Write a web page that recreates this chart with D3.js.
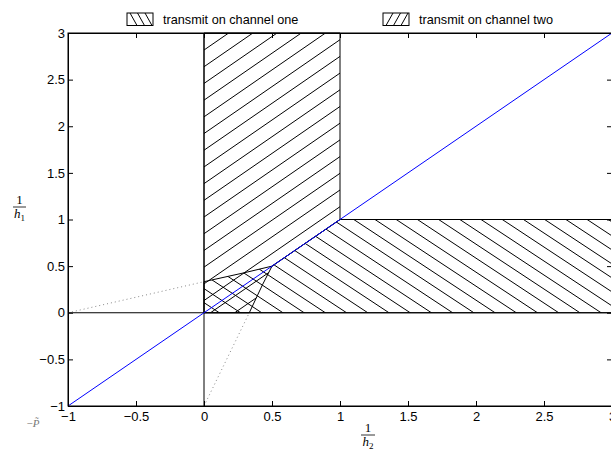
<!DOCTYPE html>
<html>
<head>
<meta charset="utf-8">
<script src="https://cdn.jsdelivr.net/npm/d3@7"></script>
<style>
  body { margin: 0; background: #fff; }
  svg { display: block; }
  text { font-family: "Liberation Sans", Arial, sans-serif; }
</style>
</head>
<body>
<svg id="chart" width="611" height="453"></svg>
<script>
// ticks on both axes
var xTicks = [-1, -0.5, 0, 0.5, 1, 1.5, 2, 2.5, 3];
var yTicks = [-1, -0.5, 0, 0.5, 1, 1.5, 2, 2.5, 3];

// regions
var channelOne = [[0, 0], [0, 0.333], [0.3, 0.43], [0.5, 0.5], [1, 1], [3, 1], [3, 0]];
var channelTwo = [[0, 0], [0.333, 0], [0.43, 0.3], [0.5, 0.5], [1, 1], [1, 3], [0, 3]];
var diagonal   = [[-1, -1], [3, 3]];
var dottedOne  = [[-1, 0], [0, 0.333]];
var dottedTwo  = [[0, -1], [0.333, 0]];
var xAxisLine  = [[-1, 0], [3, 0]];
var yAxisLine  = [[0, -1], [0, 3]];

var legendLabels = ["transmit on channel one", "transmit on channel two"];

var svg = d3.select("#chart");
var W = +svg.attr("width");
var x = d3.scaleLinear().domain([-1, 3]).range([68, 612]);
var y = d3.scaleLinear().domain([-1, 3]).range([406, 33]);

var line = d3.line().x(function(d) { return x(d[0]); }).y(function(d) { return y(d[1]); });

var defs = svg.append("defs");

// hatching: straight lines clipped to the region
function hatchRegion(id, pts, slope, gap, phase) {
  defs.append("clipPath").attr("id", id)
    .append("path").attr("d", line(pts) + "Z");
  var g = svg.append("g").attr("clip-path", "url(#" + id + ")");
  for (var k = -80; k <= 80; k++) {
    var c = phase + k * gap;            // y at pixel x = 0
    g.append("line")
      .attr("x1", 0).attr("y1", c)
      .attr("x2", W).attr("y2", c + slope * W)
      .attr("stroke", "#000").attr("stroke-width", 1);
  }
  svg.append("path")
    .attr("d", line(pts) + "Z")
    .attr("fill", "none")
    .attr("stroke", "#000").attr("stroke-width", 1);
}
hatchRegion("clipOne", channelOne, 0.66, 14, 0);     // "\\\"
hatchRegion("clipTwo", channelTwo, -0.69, 16.7, 190.8); // "///"

// axis lines through origin
svg.append("path").attr("d", line(xAxisLine)).attr("stroke", "#000").attr("fill", "none");
svg.append("path").attr("d", line(yAxisLine)).attr("stroke", "#000").attr("fill", "none");

// dotted helpers
[dottedOne, dottedTwo].forEach(function(seg) {
  svg.append("path").attr("d", line(seg))
    .attr("stroke", "#888").attr("stroke-width", 1)
    .attr("stroke-dasharray", "1,3").attr("fill", "none");
});

// blue diagonal
svg.append("path").attr("d", line(diagonal))
  .attr("stroke", "#0000ff").attr("stroke-width", 1).attr("fill", "none");

// axes, matlab style ticks pointing in
var fmt = d3.format("");
svg.append("g").attr("transform", "translate(0,406)")
  .call(d3.axisBottom(x).tickValues(xTicks).tickFormat(fmt).tickSizeInner(-5).tickSizeOuter(0).tickPadding(6));
svg.append("g").attr("transform", "translate(0,33)")
  .call(d3.axisTop(x).tickValues(xTicks).tickFormat("").tickSizeInner(-5).tickSizeOuter(0));
svg.append("g").attr("transform", "translate(68,0)")
  .call(d3.axisLeft(y).tickValues(yTicks).tickFormat(fmt).tickSizeInner(-5).tickSizeOuter(0).tickPadding(3));
svg.append("g").attr("transform", "translate(612,0)")
  .call(d3.axisRight(y).tickValues(yTicks).tickFormat("").tickSizeInner(-5).tickSizeOuter(0));

svg.selectAll(".tick text")
  .attr("font-family", "Liberation Sans, Arial, sans-serif")
  .attr("font-size", 13).attr("fill", "#000");
svg.selectAll(".domain, .tick line").attr("stroke", "#000");

// axis labels as fractions
function fraction(cx, cy, sub, width) {
  var g = svg.append("g");
  g.append("text").attr("x", cx).attr("y", cy - 3)
    .attr("text-anchor", "middle").attr("font-size", 13).text("1")
    .style("font-family", "Liberation Serif, serif");
  g.append("line").attr("x1", cx - width / 2).attr("x2", cx + width / 2)
    .attr("y1", cy).attr("y2", cy).attr("stroke", "#000").attr("stroke-width", 0.8);
  var t = g.append("text").attr("x", cx).attr("y", cy + 11)
    .attr("text-anchor", "middle").attr("font-size", 13)
    .style("font-family", "Liberation Serif, serif");
  t.append("tspan").attr("font-style", "italic").text("h");
  t.append("tspan").attr("font-size", 9).attr("dy", 3).text(sub);
}
fraction(19.5, 207, "1", 13);
fraction(368, 435, "2", 14);

svg.append("text").attr("x", 33).attr("y", 427)
  .attr("text-anchor", "middle").attr("font-size", 11).attr("fill", "#777")
  .style("font-family", "Liberation Serif, serif")
  .html("&#8722;<tspan font-style='italic'>P&#771;</tspan>");

// legend
var legendX = [127, 383];
legendLabels.forEach(function(lbl, i) {
  var lx = legendX[i], ly = 13, w = 26, h = 12.5;
  var g = svg.append("g");
  g.append("rect").attr("x", lx).attr("y", ly).attr("width", w).attr("height", h)
    .attr("fill", "#fff").attr("stroke", "#000").attr("stroke-width", 1);
  for (var k = 0; k < 3; k++) {
    var a = lx + 3 + k * 7.5;
    if (i === 0) {
      g.append("line").attr("x1", a).attr("y1", ly).attr("x2", a + 7).attr("y2", ly + h);
    } else {
      g.append("line").attr("x1", a).attr("y1", ly + h).attr("x2", a + 7).attr("y2", ly);
    }
  }
  g.selectAll("line").attr("stroke", "#000").attr("stroke-width", 1);
  g.append("text").attr("x", lx + w + 10).attr("y", ly + h / 2 + 4.5)
    .attr("font-size", 12.7).attr("fill", "#000").text(lbl);
});

// box edges
svg.append("rect").attr("x", 68).attr("y", 33).attr("width", 544).attr("height", 373)
  .attr("fill", "none").attr("stroke", "#000").attr("stroke-width", 1);
</script>
</body>
</html>
